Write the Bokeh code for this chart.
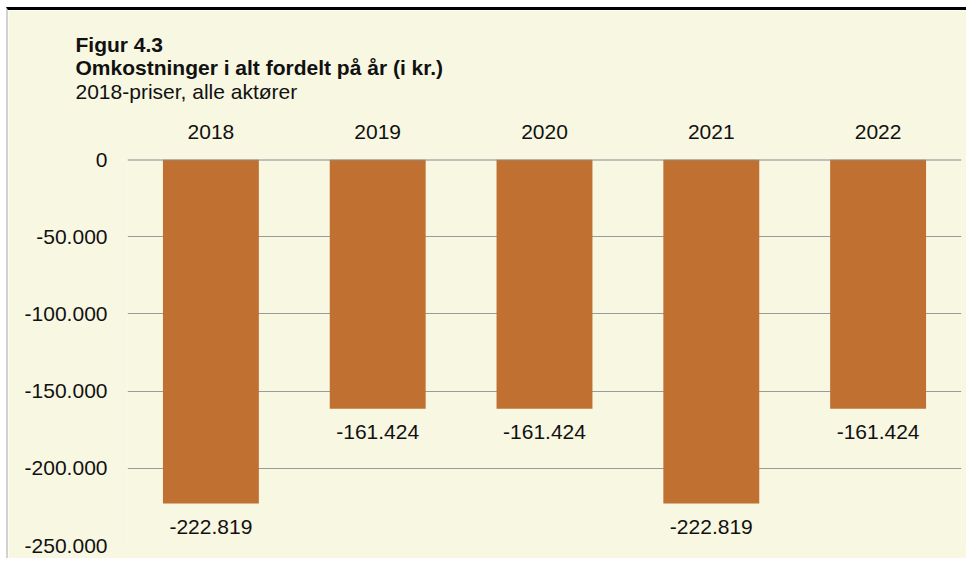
from bokeh.plotting import figure
from bokeh.models import (FactorRange, Range1d, FixedTicker, CustomJSTickFormatter,
                          LinearAxis, CategoricalAxis, Title, Span, ColumnDataSource)
from bokeh.core.properties import value
from bokeh.embed import file_html
from bokeh.resources import INLINE

years = ["2018", "2019", "2020", "2021", "2022"]
costs = [-222819, -161424, -161424, -222819, -161424]
cost_labels = ["-222.819", "-161.424", "-161.424", "-222.819", "-161.424"]
y_ticks = [0, -50000, -100000, -150000, -200000, -250000]
title_lines = ["Figur 4.3", "Omkostninger i alt fordelt på år (i kr.)", "2018-priser, alle aktører"]

BG = "#F8F7E2"
BAR = "#C07031"
FONT = "Liberation Sans"
TXT = "#111111"

p = figure(width=960, height=551, output_backend="svg", toolbar_location=None,
           x_range=FactorRange(*years), y_range=Range1d(-250000, 0),
           x_axis_location=None, y_axis_location=None,
           min_border_left=119, min_border_right=7, min_border_top=149, min_border_bottom=16)
p.background_fill_color = BG
p.border_fill_color = BG
p.outline_line_color = None
p.styles = {"margin-top": "7px", "margin-left": "6px",
            "border-top": "3px solid #000000", "border-left": "2px solid #d2d2d2"}

src = ColumnDataSource(dict(year=years, cost=costs, label=cost_labels))
p.vbar(x="year", top=0, bottom="cost", width=0.575, source=src,
       fill_color=BAR, line_color=None)
p.text(x="year", y="cost", text="label", source=src, text_align="center",
       text_baseline="middle", y_offset=23, text_font=value(FONT),
       text_font_size="21px", text_color=TXT)

yaxis = LinearAxis(ticker=FixedTicker(ticks=y_ticks))
yaxis.formatter = CustomJSTickFormatter(code="""
const s = Math.abs(tick).toFixed(0).replace(/\\B(?=(\\d{3})+(?!\\d))/g, ".");
return (tick < 0 ? "-" : "") + s;
""")
yaxis.axis_line_color = None
yaxis.major_tick_line_color = None
yaxis.minor_tick_line_color = None
yaxis.major_label_standoff = 14
yaxis.major_label_text_font = FONT
yaxis.major_label_text_font_size = "21px"
yaxis.major_label_text_color = TXT
p.add_layout(yaxis, "left")

xaxis = CategoricalAxis()
xaxis.axis_line_color = None
xaxis.major_tick_line_color = None
xaxis.major_tick_out = 0
xaxis.major_label_standoff = 21
xaxis.major_label_text_font = FONT
xaxis.major_label_text_font_size = "21px"
xaxis.major_label_text_color = TXT
xaxis.axis_label = " "
xaxis.axis_label_text_font_size = "1px"
xaxis.axis_label_standoff = 15
p.add_layout(xaxis, "above")

p.xgrid.grid_line_color = None
p.ygrid.ticker = FixedTicker(ticks=y_ticks)
p.ygrid.grid_line_color = "#9a9a9a"
p.ygrid.grid_line_width = 1
p.add_layout(Span(location=0, dimension="width", line_color="#8a8a8a", line_width=2))

styles = ["bold", "bold", "normal"]
standoffs = [-1, -3, 0]
for txt, st, so in reversed(list(zip(title_lines, styles, standoffs))):
    p.add_layout(Title(text=txt, align="left", offset=-52, standoff=so,
                       text_font=FONT, text_font_size="21px", text_font_style=st,
                       text_color=TXT), "above")

open("out.html", "w").write(file_html(p, INLINE))
